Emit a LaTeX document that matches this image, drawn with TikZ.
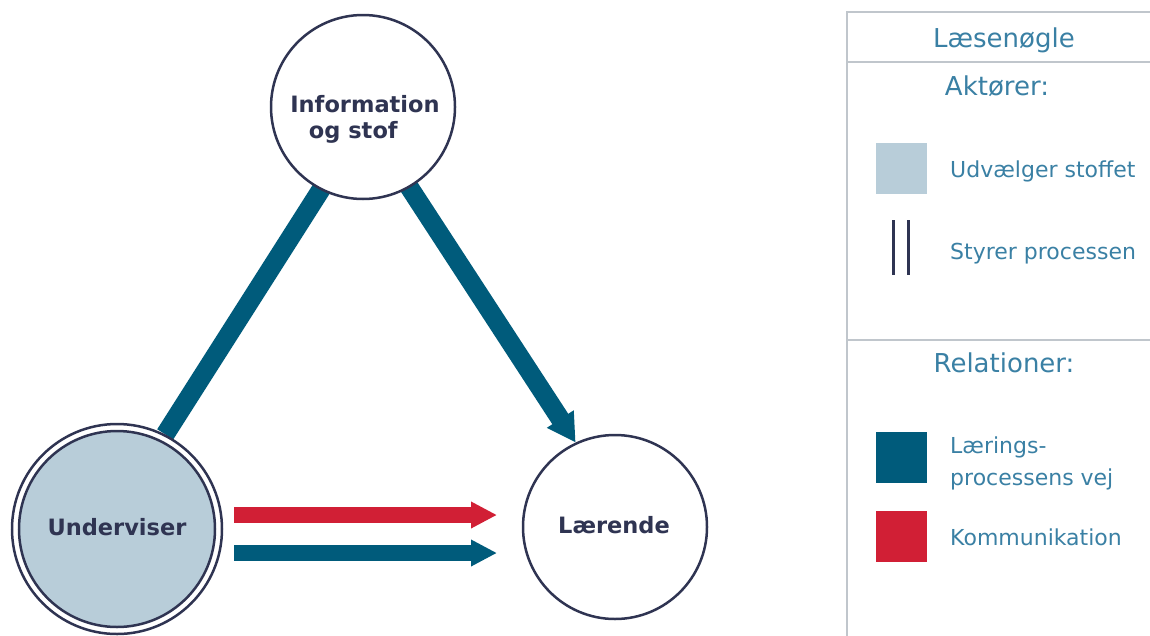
\documentclass[tikz,border=0pt]{standalone}
\usepackage{fontspec}
\setmainfont{DejaVu Sans}
\usetikzlibrary{arrows.meta,backgrounds}
\definecolor{cteal}{HTML}{005B7B}
\definecolor{cred}{HTML}{D11F35}
\definecolor{cfill}{HTML}{B8CDD9}
\definecolor{cnavy}{HTML}{2F3452}
\definecolor{ctext}{HTML}{3A80A4}
\definecolor{cborder}{HTML}{C0C6CC}
\begin{document}
\begin{tikzpicture}[x=1pt,y=-1pt,
  actor/.style={circle, draw=cnavy, line width=2.5pt, fill=white, inner sep=0pt, minimum size=184pt},
  ntext/.style={text=cnavy, font=\fontsize{22.5}{26}\selectfont\bfseries, align=center, inner sep=0pt},
  lpath/.style={draw=cteal, line width=19pt},
  hpath/.style={draw=cteal, line width=16pt},
  lhead/.style={text=ctext, font=\fontsize{26}{30}\selectfont, anchor=base, inner sep=0pt},
  litem/.style={text=ctext, font=\fontsize{22}{32}\selectfont, anchor=base west, inner sep=0pt, align=left},
  swatch/.style={minimum size=51pt, inner sep=0pt, draw=none},
  frame/.style={draw=cborder, line width=1.5pt}]
\useasboundingbox (0,0) rectangle (1150,635);
% actors
\node[actor] (info) at (363,107) {};
\node[ntext] (infot) at (365,119) {Information\\og stof\hphantom{\ o}};
\node[circle, draw=cnavy, line width=2.5pt, minimum size=210pt, inner sep=0pt] (undo) at (117,529) {};
\node[actor, fill=cfill, minimum size=196pt] (und) at (117,529) {};
\node[ntext] (undt) at (117,527) {Underviser};
\node[actor] (lr) at (615,527) {};
\node[ntext] (lrt) at (614,525) {Lærende};
% relations
\begin{pgfonlayer}{background}
\draw[lpath, shorten <=-8pt] (info.-117) -- (undo.63);
\draw[lpath, shorten <=-8pt, -{Triangle[length=28pt,width=30pt]}] (info.-60) -- (lr.115);
\end{pgfonlayer}
\coordinate (r1) at (234,515);
\coordinate (r2) at (497,515);
\coordinate (b1) at (234,553);
\coordinate (b2) at (497,553);
\draw[hpath, draw=cred, -{Triangle[length=26pt,width=25pt]}] (r1) -- (r2);
\draw[hpath, -{Triangle[length=26pt,width=25pt]}] (b1) -- (b2);
% legend
\draw[frame] (847,12) rectangle (1175,660);
\draw[frame] (847,62) -- (1175,62);
\draw[frame] (847,340) -- (1175,340);
\node[lhead] (lt) at (1004,47) {Læsenøgle};
\node[lhead] (la) at (997,95) {Aktører:};
\node[swatch, fill=cfill] (s1) at (901.5,168.5) {};
\node[litem] (t1) at (950,177) {Udvælger stoffet};
\coordinate (d1a) at (893,220);
\coordinate (d1b) at (893,275);
\coordinate (d2a) at (908,220);
\coordinate (d2b) at (908,275);
\draw[cnavy, line width=3pt] (d1a) -- (d1b);
\draw[cnavy, line width=3pt] (d2a) -- (d2b);
\node[litem] (t2) at (950,259) {Styrer processen};
\node[lhead] (lr2) at (1004,372) {Relationer:};
\node[swatch, fill=cteal] (s2) at (901.5,457) {};
\node[litem] (t3) at (950,485) {Lærings-\\processens vej};
\node[swatch, fill=cred] (s3) at (901.5,536) {};
\node[litem] (t4) at (950,545) {Kommunikation};
\end{tikzpicture}
\end{document}
